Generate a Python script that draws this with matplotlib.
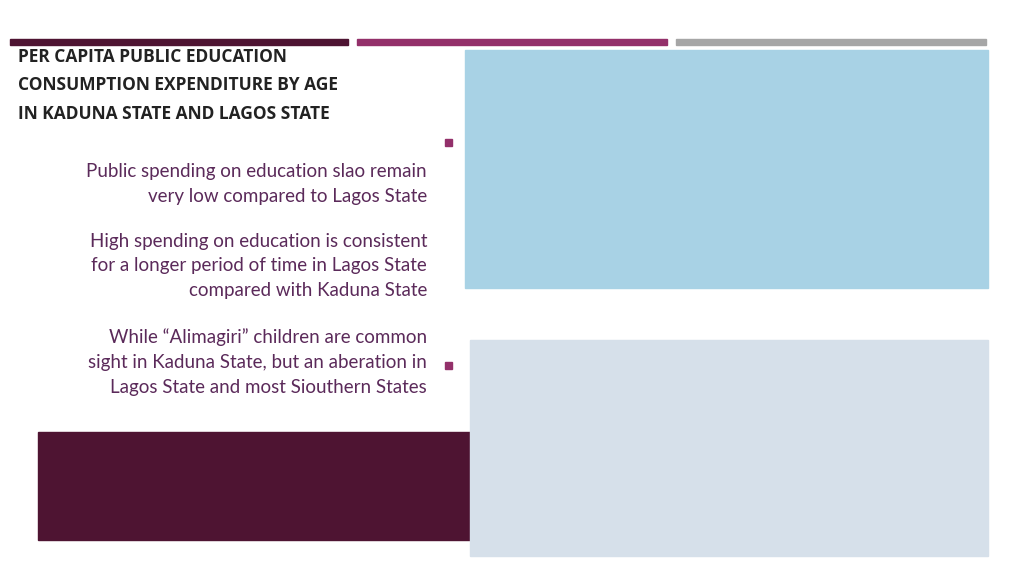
import matplotlib
matplotlib.use("Agg")
import matplotlib.pyplot as plt
from matplotlib.patches import Rectangle
from matplotlib.ticker import FuncFormatter

ages = list(range(91))
kaduna = [0,0,0,0,250,280,320,450,450,380,380,500,950,720,720,750,1300,2500,1950,3000,
          6300,4800,3200,2700,7500,1900,2400,9300,9450,7000,550,1150,2700,0,1350,0,0,1200] + [0]*53
lagos = [0,0,0,200,700,1400,1300,1200,2500,1900,2600,2300,2300,2200,2800,3000,2900,2900,10300,11200,
         14900,14700,10600,14700,16100,10600,6500,15000,11300,14800,13200,0,12700] + [0]*10 + [8400] + [0]*47
top_xticks = list(range(0, 91, 5))
top_xlabels = [str(v) for v in range(0, 90, 5)] + ["90+"]
bot_xticks = list(range(0, 91, 10))

title = "PER CAPITA PUBLIC EDUCATION\nCONSUMPTION EXPENDITURE BY AGE\nIN KADUNA STATE AND LAGOS STATE"
paras = [("Public spending on education slao remain\nvery low compared to Lagos State", 184),
         ("High spending on education is consistent\nfor a longer period of time in Lagos State\ncompared with Kaduna State", 266),
         ("While \u201cAlimagiri\u201d children are common\nsight in Kaduna State, but an aberation in\nLagos State and most Siouthern States", 362)]

W, H = 1024, 576
fig = plt.figure(figsize=(10.24, 5.76), dpi=100)
fig.patch.set_facecolor("white")

def rect(x, y, w, h, c, z=0):
    fig.patches.append(Rectangle((x/W, 1-(y+h)/H), w/W, h/H, transform=fig.transFigure, color=c, zorder=z))

rect(10, 39, 338, 6, "#4e1432")
rect(357, 39, 310, 6, "#93306a")
rect(676, 39, 310, 6, "#a6a6a6")
rect(38, 432, 440, 108, "#4e1432")
rect(465, 50, 523, 238, "#a8d2e5")
rect(470, 340, 518, 216, "#d6e0ea")
rect(445, 139, 7, 7, "#93306a")
rect(445, 362, 7, 7, "#93306a")

fig.text(18/W, 1-48/H, title, ha="left", va="top", fontsize=12.5, fontweight="bold",
         family="Open Sans", color="#222222", linespacing=1.75)
for txt, y in paras:
    fig.text(427/W, 1-y/H, txt, ha="right", va="center", fontsize=13.5, family="Lato",
             color="#5b2a5a", linespacing=1.55, multialignment="right")

ax1 = fig.add_axes([515/W, 1-264/H, 454/W, 202/H])
ax1.patch.set_alpha(0)
ax1.plot(ages, kaduna, color="#0d2a5c", lw=2.2)
ax1.set_xlim(0, 90); ax1.set_ylim(0, 10000)
ax1.set_yticks(range(0, 10001, 1000))
ax1.yaxis.set_major_formatter(FuncFormatter(lambda v, p: f"{int(v):,}"))
ax1.set_xticks(top_xticks); ax1.set_xticklabels(top_xlabels)
ax1.grid(axis="y", color="#d8ecf5", lw=0.8)
for s in ax1.spines.values(): s.set_visible(False)
ax1.tick_params(length=0, labelsize=7, labelcolor="#3d5a75", pad=5)
for l in ax1.get_xticklabels() + ax1.get_yticklabels(): l.set_family("Lato")

ax2 = fig.add_axes([535/W, 1-516/H, 439/W, 166/H])
ax2.patch.set_alpha(0)
ax2.plot(ages, lagos, color="#1fae55", lw=1.5)
ax2.set_xlim(0, 90); ax2.set_ylim(0, 18000)
ax2.set_yticks(range(0, 18001, 2000)); ax2.set_xticks(bot_xticks)
for s in ax2.spines.values(): s.set_visible(False)
ax2.tick_params(length=0, labelsize=7.5, labelcolor="#222222", pad=6)
for l in ax2.get_xticklabels() + ax2.get_yticklabels(): l.set_family("Lato")
ax2.set_xlabel("Age", fontsize=7.5, family="Lato", labelpad=4)
ax2.set_ylabel("Naira", fontsize=7.5, family="Lato", labelpad=0)

fig.savefig("out.png", dpi=100)
